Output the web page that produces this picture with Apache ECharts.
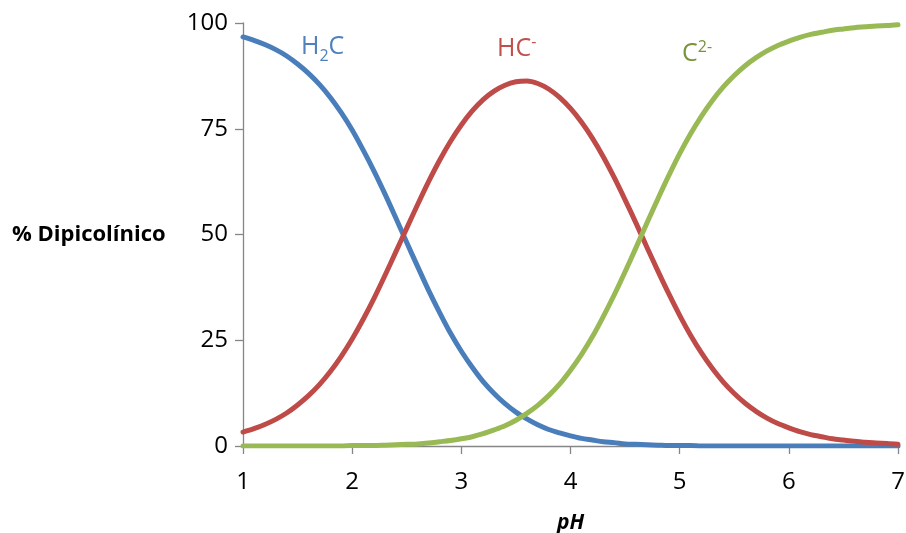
<!DOCTYPE html>
<html>
<head>
<meta charset="utf-8">
<script src="https://cdn.jsdelivr.net/npm/echarts@6/dist/echarts.min.js"></script>
<style>
  html, body { margin: 0; padding: 0; background: #ffffff; }
  #chart { width: 906px; height: 533px; }
</style>
</head>
<body>
<div id="chart"></div>
<script>
// pH sampled every 0.1 unit
const phValues = [
  1.0, 1.1, 1.2, 1.3, 1.4, 1.5, 1.6, 1.7, 1.8, 1.9,
  2.0, 2.1, 2.2, 2.3, 2.4, 2.5, 2.6, 2.7, 2.8, 2.9,
  3.0, 3.1, 3.2, 3.3, 3.4, 3.5, 3.6, 3.7, 3.8, 3.9,
  4.0, 4.1, 4.2, 4.3, 4.4, 4.5, 4.6, 4.7, 4.8, 4.9,
  5.0, 5.1, 5.2, 5.3, 5.4, 5.5, 5.6, 5.7, 5.8, 5.9,
  6.0, 6.1, 6.2, 6.3, 6.4, 6.5, 6.6, 6.7, 6.8, 6.9,
  7.0
];

// % of dipicolinic acid present as H2C
const h2cPercent = [
  96.7, 95.9, 94.9, 93.7, 92.2, 90.3, 88.1, 85.5, 82.4, 78.8,
  74.7, 70.0, 65.0, 59.6, 53.9, 48.1, 42.4, 36.8, 31.6, 26.7,
  22.4, 18.6, 15.2, 12.4, 10.0, 8.0, 6.4, 5.0, 3.9, 3.1,
  2.4, 1.8, 1.4, 1.0, 0.8, 0.5, 0.4, 0.3, 0.2, 0.1,
  0.1, 0.1, 0.0, 0.0, 0.0, 0.0, 0.0, 0.0, 0.0, 0.0,
  0.0, 0.0, 0.0, 0.0, 0.0, 0.0, 0.0, 0.0, 0.0, 0.0,
  0.0
];

// % present as HC-
const hcPercent = [
  3.3, 4.1, 5.1, 6.3, 7.8, 9.7, 11.9, 14.5, 17.6, 21.2,
  25.3, 29.9, 34.9, 40.3, 45.9, 51.5, 57.1, 62.5, 67.5, 72.0,
  75.9, 79.2, 81.9, 83.9, 85.3, 86.1, 86.3, 85.7, 84.4, 82.4,
  79.8, 76.6, 72.8, 68.4, 63.5, 58.2, 52.7, 47.0, 41.4, 36.0,
  30.9, 26.2, 22.0, 18.3, 15.1, 12.4, 10.1, 8.2, 6.6, 5.3,
  4.3, 3.4, 2.7, 2.2, 1.7, 1.4, 1.1, 0.9, 0.7, 0.6,
  0.4
];

// % present as C2-
const c2Percent = [
  0.0, 0.0, 0.0, 0.0, 0.0, 0.0, 0.0, 0.0, 0.0, 0.0,
  0.1, 0.1, 0.1, 0.2, 0.3, 0.4, 0.5, 0.7, 1.0, 1.3,
  1.7, 2.2, 2.9, 3.8, 4.8, 6.1, 7.7, 9.6, 11.9, 14.6,
  17.9, 21.6, 25.8, 30.6, 35.7, 41.2, 46.9, 52.7, 58.4, 63.9,
  69.1, 73.8, 78.0, 81.7, 84.9, 87.6, 89.9, 91.8, 93.4, 94.7,
  95.7, 96.6, 97.3, 97.8, 98.3, 98.6, 98.9, 99.1, 99.3, 99.4,
  99.6
];

// axis ticks
const xTicks = [1, 2, 3, 4, 5, 6, 7];
const yTicks = [0, 25, 50, 75, 100];

const FONT = '"Open Sans", "DejaVu Sans", sans-serif';
const AXIS_GRAY = '#868686';

function pairs(ys) {
  return phValues.map((x, i) => [x, ys[i]]);
}

function curve(name, ys, color) {
  return {
    name: name,
    type: 'line',
    data: pairs(ys),
    smooth: 0.3,
    showSymbol: false,
    symbol: 'none',
    lineStyle: { color: color, width: 5, cap: 'round', join: 'round' },
    emphasis: { disabled: true },
    z: 3
  };
}

const chart = echarts.init(document.getElementById('chart'), null, { renderer: 'canvas' });

chart.setOption({
  animation: false,
  backgroundColor: '#ffffff',
  grid: { left: 243, right: 8, top: 23, bottom: 87, containLabel: false, outerBoundsMode: 'none' },
  xAxis: {
    type: 'value',
    min: xTicks[0],
    max: xTicks[xTicks.length - 1],
    interval: 1,
    name: 'pH',
    nameLocation: 'middle',
    nameGap: 67,
    nameTextStyle: { fontFamily: FONT, fontSize: 21, fontWeight: 'bold', fontStyle: 'italic', color: '#000' },
    axisLine: { show: true, onZero: false, lineStyle: { color: AXIS_GRAY, width: 1.3 } },
    axisTick: { show: true, inside: false, length: 8, lineStyle: { color: AXIS_GRAY, width: 1.3 } },
    axisLabel: { margin: 24, fontFamily: FONT, fontSize: 24, color: '#000' },
    splitLine: { show: false }
  },
  yAxis: {
    type: 'value',
    min: yTicks[0],
    max: yTicks[yTicks.length - 1],
    interval: 25,
    axisLine: { show: true, lineStyle: { color: AXIS_GRAY, width: 1.3 } },
    axisTick: { show: true, inside: false, length: 8, lineStyle: { color: AXIS_GRAY, width: 1.3 } },
    axisLabel: { margin: 15, fontFamily: FONT, fontSize: 24, color: '#000' },
    splitLine: { show: false }
  },
  graphic: [
    {
      type: 'text',
      left: 12,
      top: 224,
      style: { text: '% Dipicolínico', font: 'bold 22px ' + FONT, fill: '#000' }
    },
    {
      type: 'text',
      left: 301,
      top: 34,
      style: {
        text: '{m|H}{s|2}{m|C}',
        rich: {
          m: { font: '25px ' + FONT, fill: '#4F81BD', verticalAlign: 'bottom' },
          s: { font: '16px ' + FONT, fill: '#4F81BD', padding: [0, 0, -5, 0], verticalAlign: 'bottom' }
        }
      }
    },
    {
      type: 'text',
      left: 497,
      top: 34,
      style: {
        text: '{m|HC}{p|-}',
        rich: {
          m: { font: '25px ' + FONT, fill: '#C0504D', verticalAlign: 'bottom' },
          p: { font: '16px ' + FONT, fill: '#C0504D', padding: [0, 0, 11, 0], verticalAlign: 'bottom' }
        }
      }
    },
    {
      type: 'text',
      left: 682,
      top: 39,
      style: {
        text: '{m|C}{p|2-}',
        rich: {
          m: { font: '25px ' + FONT, fill: '#77933C', verticalAlign: 'bottom' },
          p: { font: '16px ' + FONT, fill: '#77933C', padding: [0, 0, 11, 0], verticalAlign: 'bottom' }
        }
      }
    }
  ],
  series: [
    curve('H2C', h2cPercent, '#4A7EBB'),
    curve('HC-', hcPercent, '#BE4B48'),
    curve('C2-', c2Percent, '#98B954')
  ]
});
</script>
</body>
</html>
